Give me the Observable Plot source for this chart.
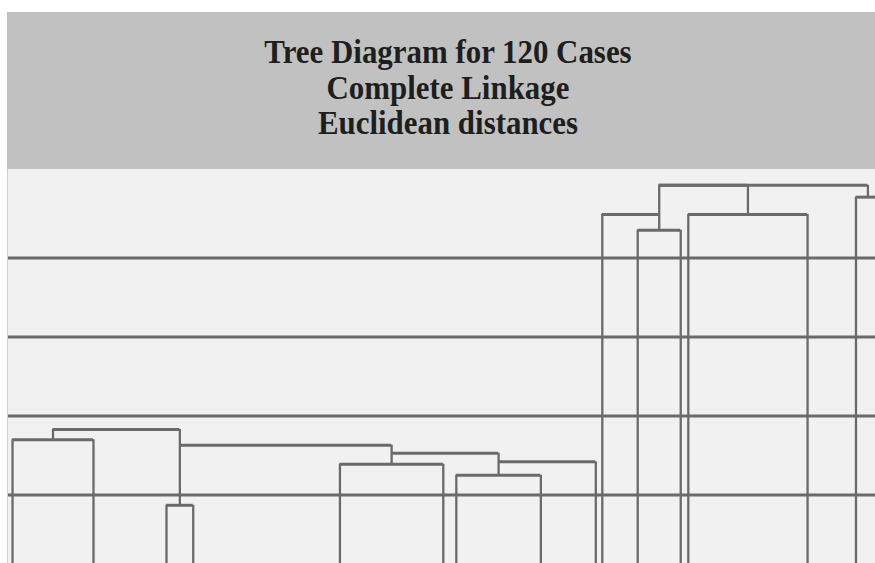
<!DOCTYPE html>
<html>
<head>
<meta charset="utf-8">
<script src="https://cdn.jsdelivr.net/npm/d3@7"></script>
<script src="https://cdn.jsdelivr.net/npm/@observablehq/plot@0.6"></script>
<style>
  html, body { margin: 0; padding: 0; background: #ffffff; width: 875px; height: 563px; overflow: hidden; }
  #header { position: absolute; left: 7px; top: 12px; width: 868px; height: 157px; background: #c1c1c1; }
  .tline { position: absolute; left: 0; width: 882px; text-align: center; font-family: "Liberation Serif", "Times New Roman", serif; font-weight: bold; font-size: 30px; color: #1e1e1e; line-height: 1; transform: scale(1.03, 1.1); }
  #chart { position: absolute; left: 7px; top: 169px; width: 868px; height: 394px; background: #f1f1f1; border-left: 1px solid #d0d0d0; box-sizing: border-box; }
  #chart svg { display: block; }
</style>
</head>
<body>
<div id="header">
  <div class="tline" id="t1" style="top:25px">Tree Diagram for 120 Cases</div>
  <div class="tline" id="t2" style="top:61px">Complete Linkage</div>
  <div class="tline" id="t3" style="top:96px">Euclidean distances</div>
</div>
<div id="chart"></div>
<script>
// Visible cluster stubs at the bottom edge (position along case order, 0–120)
const leafIds = ["c1","c2","c3","c4","c5","c6","c7","c8","c9","c10","c11","c12","c13","c14","c15","c16"];
const leafPos = [0.7, 11.9, 22.0, 25.7, 46.0, 60.3, 62.1, 73.8, 81.4, 82.3, 87.2, 93.15, 94.2, 110.7, 117.4, 120.7];

// Merges: left child, right child, linkage distance, where the node's stem sits
const nodeIds    = ["A","B","C","D","E","F","G","H","Q","P","S","R1","T","R2"];
const nodeLeft   = ["c1","c3","c5","c7","D","C","B","A","c11","c10","c13","P","c15","R1"];
const nodeRight  = ["c2","c4","c6","c8","c9","E","F","G","c12","Q","c14","S","c16","T"];
const nodeHeight = [1.70, 0.87, 1.39, 1.25, 1.42, 1.53, 1.63, 1.83, 4.35, 4.55, 4.55, 4.92, 4.77, 4.92];
const nodeAnchor = ["mid","mid","mid","mid","left","left","left","mid","mid","right","mid","left","mid","left"];

// Grid lines (linkage distance)
const gridValues = [1, 2, 3, 4];

// Build tree geometry in data units
const pos = new Map(), hgt = new Map();
leafIds.forEach((id, i) => { pos.set(id, leafPos[i]); hgt.set(id, 0); });
const hSegs = [], vSegs = [];
nodeIds.forEach((id, i) => {
  const l = nodeLeft[i], r = nodeRight[i], h = nodeHeight[i];
  const lp = pos.get(l), rp = pos.get(r);
  hSegs.push({x1: lp, x2: rp, y: h});
  vSegs.push({x: lp, y1: hgt.get(l), y2: h});
  vSegs.push({x: rp, y1: hgt.get(r), y2: h});
  const p = nodeAnchor[i] === "left" ? lp : nodeAnchor[i] === "right" ? rp : (lp + rp) / 2;
  pos.set(id, p); hgt.set(id, h);
});

const lineColor = "#6a6a6a";
const plot = Plot.plot({
  width: 867,
  height: 394,
  marginLeft: 0,
  marginRight: 0,
  marginTop: 0,
  marginBottom: 0,
  x: {domain: [0.14, 120.1], axis: null},
  y: {domain: [0.133, 5.12], axis: null},
  style: {background: "transparent", overflow: "hidden"},
  marks: [
    Plot.ruleY(gridValues, {stroke: lineColor, strokeWidth: 2.8}),
    Plot.ruleX(vSegs, {x: "x", y1: "y1", y2: "y2", stroke: lineColor, strokeWidth: 2.3, clip: true}),
    Plot.ruleY(hSegs, {y: "y", x1: "x1", x2: "x2", stroke: lineColor, strokeWidth: 3, clip: true})
  ]
});
document.getElementById("chart").appendChild(plot);
</script>
</body>
</html>
